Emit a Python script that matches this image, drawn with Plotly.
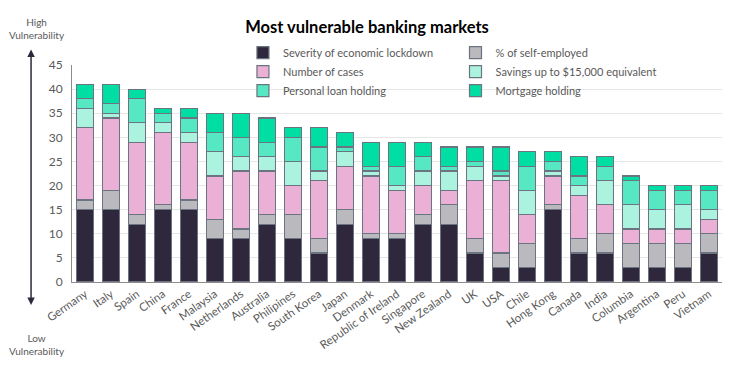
import plotly.graph_objects as go

countries = ["Germany", "Italy", "Spain", "China", "France", "Malaysia", "Netherlands",
             "Australia", "Philipines", "South Korea", "Japan", "Denmark", "Republic of Ireland",
             "Singapore", "New Zealand", "UK", "USA", "Chile", "Hong Kong", "Canada", "India",
             "Columbia", "Argentina", "Peru", "Vietnam"]

lockdown = [15, 15, 12, 15, 15, 9, 9, 12, 9, 6, 12, 9, 9, 12, 12, 6, 3, 3, 15, 6, 6, 3, 3, 3, 6]
self_employed = [2, 4, 2, 1, 2, 4, 2, 2, 5, 3, 3, 1, 1, 2, 4, 3, 3, 5, 1, 3, 4, 5, 5, 5, 4]
cases = [15, 15, 15, 15, 12, 9, 12, 9, 6, 12, 9, 12, 9, 6, 3, 12, 15, 6, 6, 9, 6, 3, 3, 3, 3]
savings = [4, 1, 4, 2, 2, 5, 3, 3, 5, 2, 3, 1, 1, 3, 4, 3, 1, 5, 1, 2, 5, 5, 4, 5, 2]
personal_loan = [2, 2, 5, 2, 3, 4, 4, 3, 5, 5, 1, 1, 4, 3, 1, 1, 1, 5, 2, 2, 3, 5, 4, 3, 4]
mortgage = [3, 4, 2, 1, 2, 4, 5, 5, 2, 4, 3, 5, 5, 3, 4, 3, 5, 3, 2, 4, 2, 1, 1, 1, 1]

series = [
    ("Severity of economic lockdown", lockdown, "#2f283d", "legend"),
    ("% of self-employed", self_employed, "#b9b9be", "legend2"),
    ("Number of cases", cases, "#eab0d6", "legend"),
    ("Savings up to $15,000 equivalent", savings, "#abf3df", "legend2"),
    ("Personal loan holding", personal_loan, "#56e8c2", "legend"),
    ("Mortgage holding", mortgage, "#00dea4", "legend2"),
]

FONT = "Lato, Open Sans, sans-serif"
TXT = "#595959"

fig = go.Figure()
for name, vals, color, lg in series:
    fig.add_trace(go.Bar(
        x=countries, y=vals, name=name, legend=lg,
        marker=dict(color=color, line=dict(color="#6b7480", width=1.2)),
    ))

legend_common = dict(yanchor="top", xanchor="left", bgcolor="rgba(0,0,0,0)",
                     font=dict(size=11, color=TXT), tracegroupgap=0, itemwidth=30,
                     traceorder="normal")

# the page adds an 8px body margin, so margins are offset to compensate
fig.update_layout(
    barmode="stack",
    bargap=0.35,
    width=734, height=379,
    margin=dict(l=64, r=20, t=57, b=105, autoexpand=False),
    paper_bgcolor="white",
    plot_bgcolor="white",
    font=dict(family=FONT, color=TXT, size=11),
    title=dict(text="<b>Most vulnerable banking markets</b>", x=(367 - 8) / 734, xanchor="center",
               xref="container", y=1 - 19 / 379, yref="container", yanchor="middle",
               font=dict(size=16.5, color="black", family=FONT)),
    xaxis=dict(tickangle=-35, showline=True, linecolor="#8c8c8c", linewidth=1,
               tickfont=dict(size=11.5, color=TXT, family=FONT), ticks=""),
    yaxis=dict(range=[0, 45], dtick=5, showline=True, linecolor="#8c8c8c", linewidth=1,
               gridcolor="#e6e6e6", gridwidth=1, zeroline=False, ticks="",
               tickfont=dict(size=12, color=TXT, family=FONT), ticklabelstandoff=6),
    legend=dict(x=0.263, y=1.124, **legend_common),
    legend2=dict(x=0.590, y=1.124, **legend_common),
)

# vulnerability arrow and labels
fig.add_annotation(xref="paper", yref="paper", x=-0.063, y=-0.106,
                   ax=0, ay=-257, axref="pixel", ayref="pixel", text="",
                   showarrow=True, arrowhead=2, arrowside="end+start", arrowsize=1,
                   arrowwidth=1.5, arrowcolor="#2f283d")
fig.add_annotation(xref="paper", yref="paper", x=-0.054, y=1.17, text="High<br>Vulnerability",
                   xanchor="center", yanchor="middle",
                   showarrow=False, font=dict(size=10, color=TXT), align="center")
fig.add_annotation(xref="paper", yref="paper", x=-0.054, y=-0.29, text="Low<br>Vulnerability",
                   xanchor="center", yanchor="middle",
                   showarrow=False, font=dict(size=10, color=TXT), align="center")

fig.write_html("out.html")
